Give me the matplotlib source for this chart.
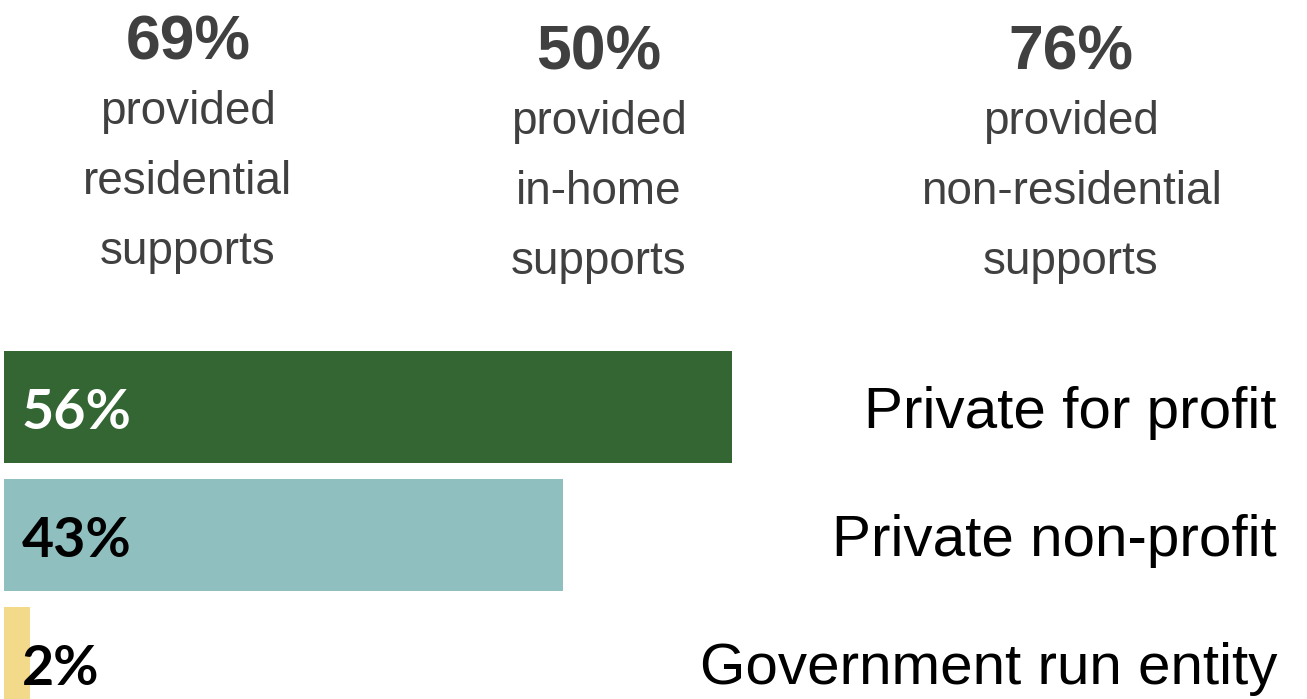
import matplotlib
matplotlib.use("Agg")
import matplotlib.pyplot as plt

# share of providers by ownership type
owners = ["Private for profit", "Private non-profit", "Government run entity"]
shares = [56, 43, 2]
bar_colors = ["#336633", "#8fbfbf", "#f2da8a"]
label_colors = ["white", "black", "black"]

# headline figures for support types
support_pcts = [69, 50, 76]
support_lines = [["provided", "residential", "supports"],
                 ["provided", "in-home", "supports"],
                 ["provided", "non-residential", "supports"]]

W, H = 1307, 699
fig = plt.figure(figsize=(W / 100, H / 100), dpi=100)
fig.patch.set_facecolor("white")

# bars axis: 13 px per percent, 128 px per row
ax = fig.add_axes([4 / W, 0, 1 - 4 / W, 1])
ax.set_xlim(0, (W - 4) / 13)
ax.set_ylim((H - 407) / 128, -407 / 128)
ax.axis("off")

ypos = list(range(len(owners)))
ax.barh(ypos, shares, height=0.875, color=bar_colors)
for i, (v, c) in enumerate(zip(shares, label_colors)):
    ax.text(18 / 13, i + 0.175, f"{v}%", ha="left", va="baseline",
            fontsize=40, fontweight="bold", family="Lato", color=c)
    ax.text((1277 - 4) / 13, i + 0.164, owners[i], ha="right", va="baseline",
            fontsize=42, family="Liberation Sans", color="black")

# headline columns along the top
col_x = [188, 599, 1071]
col_base = [60, 70, 70]
grey = "#404040"
for x, base, pct, lines in zip(col_x, col_base, support_pcts, support_lines):
    fig.text(x / W, 1 - base / H, f"{pct}%", ha="center", va="baseline",
             fontsize=45, fontweight="bold", family="Liberation Sans", color=grey)
    for k, line in enumerate(lines):
        fig.text(x / W, 1 - (base + 64 + 70 * k) / H, line, ha="center",
                 va="baseline", fontsize=33, family="Liberation Sans", color=grey)

fig.savefig("out.png", dpi=100, facecolor="white")
